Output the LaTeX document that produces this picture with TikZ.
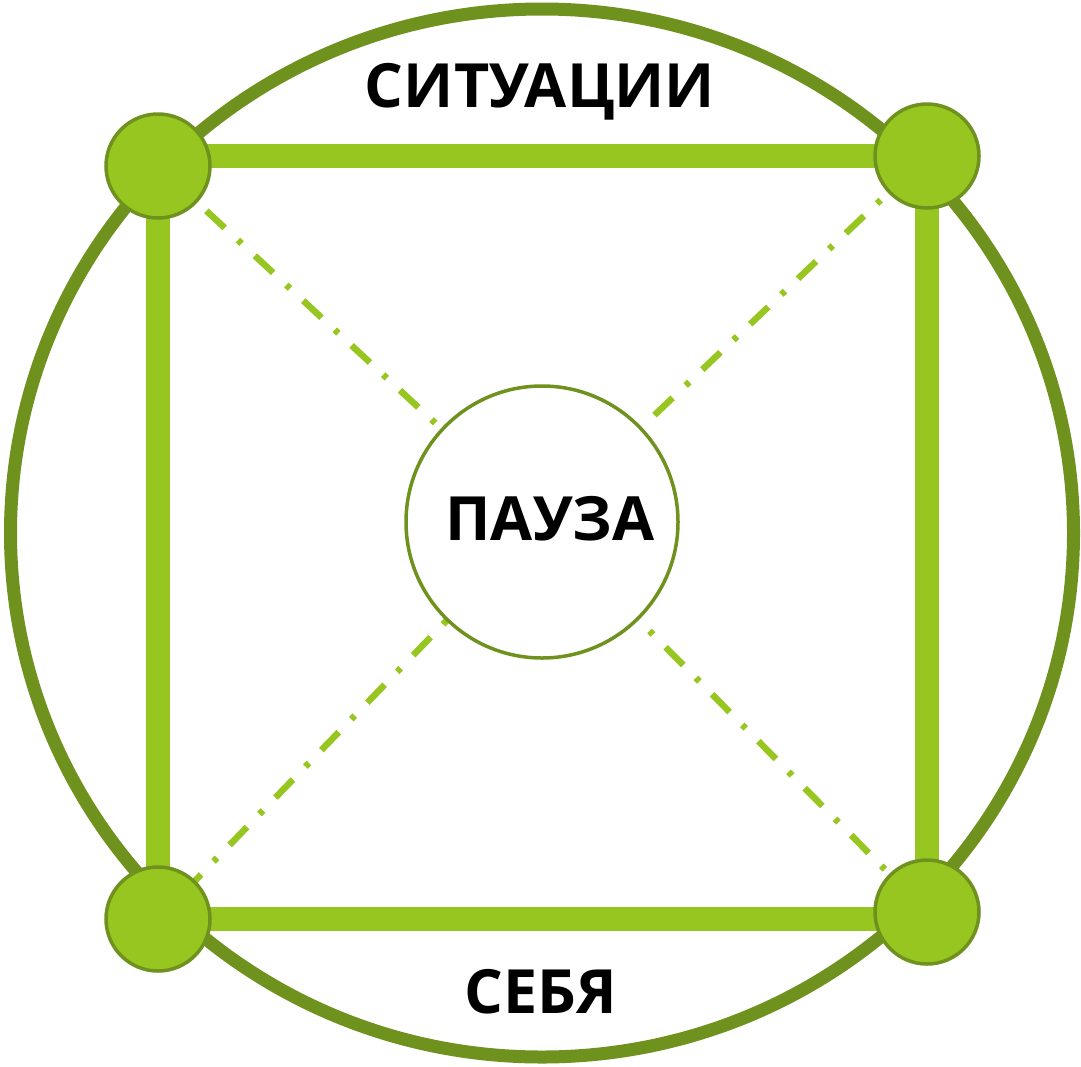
\documentclass[tikz,border=0pt]{standalone}
\usepackage{fontspec}
\setmainfont{Open Sans}
\usetikzlibrary{backgrounds}
\definecolor{leafgreen}{RGB}{152,198,32}
\definecolor{ringgreen}{RGB}{111,146,30}
\tikzset{
  corner/.style={circle,fill=leafgreen,draw=ringgreen,line width=3.5pt,
    minimum size=104pt,inner sep=0pt},
  pausecircle/.style={circle,fill=white,draw=ringgreen,line width=3.5pt,
    minimum size=272pt,inner sep=0pt},
  word/.style={font=\fontsize{61}{70}\selectfont\bfseries,anchor=base,inner sep=0pt},
  dashdot/.style={leafgreen,line width=6.5pt,
    dash pattern=on 25pt off 18pt on 5pt off 18pt}
}

\begin{document}
\begin{tikzpicture}[x=1pt,y=-1pt]
\useasboundingbox (0,0) rectangle (1081,1066);

\node[pausecircle] (P) at (542,522) {};
\node[corner] (TL) at (158,166) {};
\node[corner] (TR) at (927,156) {};
\node[corner] (BR) at (927,912) {};
\node[corner] (BL) at (158,919) {};

\node[word] (pauseword) at (550,540) {ПАУЗА};
\node[word] (situations) at (540,107) {СИТУАЦИИ};
\node[word] (self) at (541,1013) {СЕБЯ};

\begin{pgfonlayer}{background}
\draw[ringgreen,line width=13pt]
  (542,533) ellipse [x radius=531.5pt, y radius=524pt];
\draw[leafgreen,line width=24pt]
  (TL.center |- TR.center) -- (TR.center) --
  (BR.center |- BL.center) -- (BL.center) -- cycle;
\foreach \corner/\phase in {TL/0,TR/45,BR/49,BL/29}
  \draw[dashdot,dash phase=\phase pt] (\corner.center) -- (P.center);
\end{pgfonlayer}
\end{tikzpicture}
\end{document}
